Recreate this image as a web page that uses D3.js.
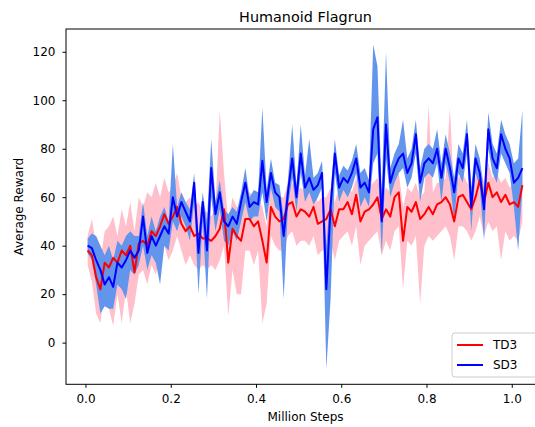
<!DOCTYPE html>
<html>
<head>
<meta charset="utf-8">
<script src="https://cdn.jsdelivr.net/npm/d3@7"></script>
<style>
  body { margin: 0; background: #fff; }
  text { font-family: "DejaVu Sans", sans-serif; fill: #000; }
</style>
</head>
<body>
<div id="chart"></div>
<script>
// evaluation grid, in million steps
const STEP_START = 0.005, STEP_SIZE = 0.01;

const td3Mean = [38,36,27,22,33,31,35,33,38,36, 40,29,41,42,40,46,44,48,53,49,
  52,56,49,46,48,44,45,43,43,42, 44,47,55,33,47,44,42,51,51,48,
  50,42,33,56,52,50,51,57,58,52, 55,54,52,56,49,50,51,55,48,55,
  55,58,53,61,50,54,55,57,60,51, 55,52,60,62,42,56,54,58,51,53,
  56,53,57,58,60,57,50,60,61,58, 55,60,67,58,66,60,62,58,61,57, 58,56,65];
const td3Low = [32,25,12,8,22,14,7,20,8,22, 8,16,28,30,24,32,28,36,40,34,
  38,44,38,32,36,32,30,32,30,32, 30,34,40,11,30,20,20,38,38,32,
  38,8,16,44,40,38,38,44,46,40, 42,42,40,44,36,38,38,42,34,42,
  44,46,40,48,32,40,42,44,46,36, 42,38,46,48,22,42,40,44,16,40,
  44,42,44,46,48,44,34,48,48,46, 42,46,52,44,50,46,48,34,46,42, 44,42,50];
const td3High = [44,51,40,34,46,48,52,44,55,48, 58,46,60,56,62,60,66,60,68,62,
  64,70,60,58,60,56,58,54,54,52, 56,96,70,50,60,56,56,64,62,60,
  60,56,48,66,62,60,60,66,66,62, 64,62,62,64,58,60,60,64,58,64,
  64,66,62,68,60,62,64,66,68,60, 64,62,68,70,56,64,62,66,60,62,
  98,62,66,66,68,97,60,68,70,66, 64,68,74,66,74,68,70,66,68,64, 66,64,72];

const sd3Mean = [40,39,34,30,24,27,23,33,31,34, 38,35,38,52,37,44,40,44,48,45,
  60,52,58,54,50,66,37,58,38,72, 53,62,50,48,52,49,58,66,56,58,
  57,75,58,70,62,60,44,62,76,60, 78,64,68,63,65,70,22,56,78,64,
  68,66,70,76,64,66,62,88,93,50, 90,66,72,76,78,70,74,86,66,74,
  76,74,80,68,80,72,62,76,72,86, 56,76,70,55,88,76,72,86,80,76, 66,68,72];
const sd3Low = [37,34,24,12,15,14,14,24,22,18, 30,28,32,40,30,36,33,24,40,38,
  50,46,52,48,42,58,20,50,18,60, 46,55,42,40,46,42,50,58,50,52,
  52,62,50,64,56,54,18,56,68,54, 70,58,62,57,60,64,-11,18,70,58,
  63,60,64,70,56,60,56,74,78,36, 76,60,66,70,72,64,68,78,58,68,
  70,68,74,58,74,66,50,70,66,78, 46,70,64,42,80,70,66,78,74,70, 56,38,64];
const sd3High = [43,45,44,40,36,40,34,42,40,44, 46,44,44,58,44,52,46,52,56,50,
  82,56,62,58,55,70,44,62,50,84, 58,67,55,53,56,54,62,72,60,63,
  62,97,63,76,66,65,52,67,90,65, 90,69,84,68,70,75,40,62,84,69,
  73,71,75,82,70,72,67,123,114,62, 120,72,78,82,92,76,80,92,72,80,
  82,80,88,74,86,78,68,82,78,92, 64,82,76,62,95,82,78,92,86,82, 74,76,96];

const xTicks = [0.0, 0.2, 0.4, 0.6, 0.8, 1.0];
const yTicks = [0, 20, 40, 60, 80, 100, 120];
const seriesNames = ["TD3", "SD3"];

class RewardChart {
  constructor() {
    this.width = 535;
    this.height = 427;
    this.plot = { left: 66, top: 29, right: 545, bottom: 384.3 };
    this.layout();
  }

  layout() {
    var p = this.plot;
    this.svg = d3.select("#chart")
      .append("svg")
      .attr("width", this.width)
      .attr("height", this.height);

    this.xScale = d3.scaleLinear().domain([-0.0457, 1.078]).range([p.left, p.right]);
    this.yScale = d3.scaleLinear().domain([-17.2, 129.4]).range([p.bottom, p.top]);

    this.svg.append("clipPath").attr("id", "clip")
      .append("rect")
      .attr("x", p.left).attr("y", p.top)
      .attr("width", p.right - p.left).attr("height", p.bottom - p.top);

    this.drawSeries();
    this.drawAxes();
    this.drawLegend();
  }

  drawSeries() {
    var x = this.xScale, y = this.yScale;
    var steps = td3Mean.map((d, i) => STEP_START + i * STEP_SIZE);
    var g = this.svg.append("g").attr("clip-path", "url(#clip)");

    var band = (lo, hi) => d3.area()
      .x((d, i) => x(steps[i]))
      .y0((d, i) => y(lo[i]))
      .y1((d, i) => y(hi[i]));
    var line = d3.line()
      .x((d, i) => x(steps[i]))
      .y(d => y(d));

    g.append("path").datum(td3Mean)
      .attr("fill", "pink")
      .attr("d", band(td3Low, td3High));
    g.append("path").datum(sd3Mean)
      .attr("fill", "cornflowerblue")
      .attr("d", band(sd3Low, sd3High));
    g.append("path").datum(td3Mean)
      .attr("fill", "none")
      .attr("stroke", "red")
      .attr("stroke-width", 2)
      .attr("stroke-linejoin", "round")
      .attr("d", line);
    g.append("path").datum(sd3Mean)
      .attr("fill", "none")
      .attr("stroke", "blue")
      .attr("stroke-width", 2)
      .attr("stroke-linejoin", "round")
      .attr("d", line);
  }

  drawAxes() {
    var p = this.plot;
    var x_axis = d3.axisBottom(this.xScale)
      .tickValues(xTicks)
      .tickFormat(d3.format(".1f"))
      .tickSize(3.5)
      .tickPadding(7);
    var gx = this.svg.append("g")
      .attr("transform", "translate(0," + p.bottom + ")")
      .call(x_axis);
    gx.select(".domain").remove();
    gx.selectAll("text").attr("font-size", 12).attr("font-family", "DejaVu Sans");

    var y_axis = d3.axisLeft(this.yScale)
      .tickValues(yTicks)
      .tickSize(3.5)
      .tickPadding(7);
    var gy = this.svg.append("g")
      .attr("transform", "translate(" + p.left + ",0)")
      .call(y_axis);
    gy.select(".domain").remove();
    gy.selectAll("text").attr("font-size", 12).attr("font-family", "DejaVu Sans");

    // frame
    this.svg.append("rect")
      .attr("x", p.left).attr("y", p.top)
      .attr("width", p.right - p.left).attr("height", p.bottom - p.top)
      .attr("fill", "none")
      .attr("stroke", "black")
      .attr("stroke-width", 1);

    var cx = (p.left + p.right) / 2;
    this.svg.append("text")
      .attr("x", cx).attr("y", 21.5)
      .attr("text-anchor", "middle")
      .attr("font-size", 14.4)
      .text("Humanoid Flagrun");
    this.svg.append("text")
      .attr("x", cx).attr("y", 421)
      .attr("text-anchor", "middle")
      .attr("font-size", 12)
      .text("Million Steps");
    this.svg.append("text")
      .attr("transform", "translate(19," + ((p.top + p.bottom) / 2) + ") rotate(-90)")
      .attr("text-anchor", "middle")
      .attr("dominant-baseline", "central")
      .attr("font-size", 12)
      .text("Average Reward");
  }

  drawLegend() {
    var colors = ["red", "blue"];
    var lg = this.svg.append("g").attr("transform", "translate(452,333)");
    lg.append("rect")
      .attr("width", 86).attr("height", 44).attr("rx", 3)
      .attr("fill", "white").attr("fill-opacity", 0.8)
      .attr("stroke", "#cccccc");
    var items = lg.selectAll("g.item")
      .data(seriesNames)
      .join("g")
      .attr("class", "item")
      .attr("transform", (d, i) => "translate(0," + (12 + i * 20) + ")");
    items.append("line")
      .attr("x1", 5).attr("x2", 31)
      .attr("stroke", (d, i) => colors[i])
      .attr("stroke-width", 2);
    items.append("text")
      .attr("x", 41)
      .attr("dominant-baseline", "central")
      .attr("font-size", 12)
      .text(d => d);
  }
}

new RewardChart();
</script>
</body>
</html>
